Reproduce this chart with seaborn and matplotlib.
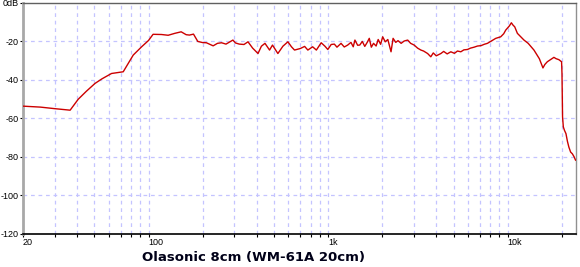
import matplotlib
matplotlib.use("Agg")
import matplotlib.pyplot as plt
import seaborn as sns
import pandas as pd
from matplotlib.ticker import FixedLocator, NullFormatter

# ---- data ----
freq_hz = [20, 25, 30, 36.6, 40.6, 45, 50.3, 55, 59.7, 62.2, 72.3, 77, 82.2, 91.5, 100, 106,
           118, 128.6, 140, 152, 162, 169, 178, 188, 200, 210, 229, 242, 255, 270, 295, 305,
           320, 340, 358, 380, 407, 425, 445, 472, 490, 525, 560, 597, 625, 650, 700, 740,
           771, 820, 860, 915, 960, 996, 1040, 1083, 1120, 1180, 1230, 1285, 1340, 1380,
           1410, 1460, 1500, 1550, 1600, 1650, 1695, 1740, 1790, 1850, 1900, 1960, 2013,
           2080, 2150, 2240, 2300, 2380, 2450, 2550, 2650, 2774, 2880, 3013, 3150, 3286,
           3400, 3580, 3730, 3850, 4000, 4245, 4400, 4600, 4823, 5050, 5250, 5480, 5700,
           5970, 6200, 6500, 6790, 7100, 7400, 7710, 8100, 8580, 9140, 9500, 9750, 10200,
           10480, 10700, 10940, 11320, 11800, 12320, 13000, 14000, 15000, 15710, 16100,
           16610, 17300, 18080, 18600, 19270, 19950, 20050, 20200, 20400, 20700, 21100,
           21500, 21900, 22400, 22900, 23400, 23880]
level_db = [-53.7, -54.2, -55.0, -55.8, -50.1, -46.0, -41.9, -39.5, -37.6, -36.7, -35.8, -31.5,
            -27.1, -22.8, -19.5, -16.3, -16.4, -16.8, -15.8, -15.0, -16.5, -16.7, -16.2, -20.0,
            -20.6, -20.7, -22.3, -21.0, -20.7, -21.4, -19.3, -20.8, -21.4, -21.6, -20.2, -23.5,
            -26.3, -22.5, -21.0, -24.5, -21.9, -26.3, -22.5, -20.2, -22.8, -24.5, -23.7, -22.6,
            -24.5, -22.8, -24.5, -20.7, -22.5, -24.2, -21.6, -21.4, -23.0, -21.0, -22.9, -21.9,
            -20.5, -22.8, -19.3, -22.0, -21.9, -20.0, -22.6, -20.5, -18.4, -23.0, -21.0, -22.4,
            -19.0, -21.5, -17.6, -20.2, -19.0, -25.4, -18.4, -20.5, -19.6, -21.0, -19.8, -19.3,
            -21.0, -21.9, -23.5, -24.5, -25.0, -26.3, -28.0, -26.0, -27.5, -26.3, -25.2, -26.5,
            -25.4, -26.2, -25.0, -25.4, -24.4, -24.2, -23.5, -23.0, -22.4, -22.2, -21.5, -21.0,
            -19.8, -18.4, -17.6, -16.0, -14.1, -12.0, -10.3, -11.5, -12.4, -15.8, -17.5, -19.3,
            -21.0, -24.5, -29.0, -33.8, -32.0, -30.6, -29.5, -28.3, -29.0, -29.5, -30.6, -36.5,
            -59.3, -64.5, -66.3, -68.0, -72.0, -75.0, -77.6, -78.5, -80.0, -81.9]

x_major = [20, 100, 1000, 10000]
x_major_labels = ["20", "100", "1k", "10k"]
x_minor = [30, 40, 50, 60, 70, 80, 90, 200, 300, 400, 500, 600, 700, 800, 900,
           2000, 3000, 4000, 5000, 6000, 7000, 8000, 9000, 20000]
y_ticks = [0, -20, -40, -60, -80, -100, -120]
y_labels = ["0dB", "-20", "-40", "-60", "-80", "-100", "-120"]
title = "Olasonic 8cm (WM-61A 20cm)"

sns.set_style("white")
plt.rcParams["font.family"] = ["Liberation Sans", "DejaVu Sans"]

df = pd.DataFrame({"freq": freq_hz, "db": level_db})

fig = plt.figure(figsize=(5.8, 2.67), dpi=100)
ax = fig.add_axes([23 / 580, 1 - 233.5 / 267, (576 - 23) / 580, (233.5 - 3) / 267])

grid_kw = dict(color="#c4c4ff", lw=0.9, ls=(0, (3, 3)), zorder=0)
for xv in x_minor + x_major[1:]:
    ax.axvline(xv, **grid_kw)
for yv in y_ticks[1:-1]:
    ax.axhline(yv, **grid_kw)

sns.lineplot(data=df, x="freq", y="db", ax=ax, color="#cc0000", lw=1.0, zorder=3)

ax.set_xscale("log")
ax.set_xlim(20, 24000)
ax.set_ylim(-120, 0)
ax.xaxis.set_major_locator(FixedLocator(x_major))
ax.set_xticklabels(x_major_labels)
ax.xaxis.set_minor_locator(FixedLocator(x_minor))
ax.xaxis.set_minor_formatter(NullFormatter())
ax.set_yticks(y_ticks)
ax.set_yticklabels(y_labels)
ax.set_xlabel("")
ax.set_ylabel("")

ax.tick_params(axis="both", which="both", direction="out", length=2.5, width=0.8,
               labelsize=6.5, colors="black", pad=1)
ax.tick_params(axis="x", which="both", bottom=True)
ax.tick_params(axis="y", left=True, pad=0.5)
for lab in ax.get_xticklabels():
    lab.set_horizontalalignment("left")

ax.spines["left"].set_color("#a8a8a8")
ax.spines["left"].set_linewidth(2)
ax.spines["bottom"].set_color("black")
ax.spines["bottom"].set_linewidth(1.2)
ax.spines["top"].set_color("#606060")
ax.spines["top"].set_linewidth(1)
ax.spines["right"].set_color("#909090")
ax.spines["right"].set_linewidth(1)

fig.text(254 / 580, 1 - 257 / 267, title, ha="center", va="center",
         fontsize=9.5, fontweight="bold", color="#000018",
         family=["DejaVu Sans"])

fig.savefig("out.png", dpi=100)
